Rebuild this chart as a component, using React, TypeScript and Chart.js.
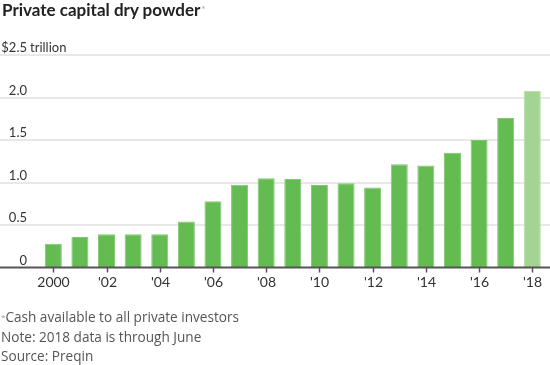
import React, { useEffect, useRef } from "react";
import { Chart, registerables } from "chart.js";

Chart.register(...registerables);

const years = ["2000","2001","2002","2003","2004","2005","2006","2007","2008","2009","2010","2011","2012","2013","2014","2015","2016","2017","2018"];
const xTickLabels = ["2000","","'02","","'04","","'06","","'08","","'10","","'12","","'14","","'16","","'18"];
const dryPowder = [0.28,0.36,0.39,0.39,0.39,0.54,0.78,0.975,1.05,1.04,0.97,0.99,0.94,1.215,1.2,1.35,1.5,1.76,2.08];
const yTickValues = [0, 0.5, 1.0, 1.5, 2.0, 2.5];
const yTickLabels = ["0", "0.5", "1.0", "1.5", "2.0", "$2.5"];

const FONT = "Lato, 'Noto Sans', sans-serif";
const NOTE_FONT = "'Open Sans', 'Noto Sans', sans-serif";

const axisPlugin = {
  id: "wsjAxes",
  beforeDatasetsDraw(chart: any) {
    const { ctx, scales } = chart;
    const y = scales.y;
    ctx.save();
    ctx.strokeStyle = "#e8e8e8";
    ctx.lineWidth = 2;
    yTickValues.forEach((v) => {
      if (v === 0) return;
      const py = Math.round(y.getPixelForValue(v));
      ctx.beginPath();
      ctx.moveTo(0, py);
      ctx.lineTo(550, py);
      ctx.stroke();
    });
    ctx.fillStyle = "#333";
    ctx.font = `13px ${FONT}`;
    ctx.textBaseline = "alphabetic";
    yTickValues.forEach((v, i) => {
      const py = y.getPixelForValue(v);
      ctx.textAlign = "right";
      ctx.fillText(yTickLabels[i], 27, py - 3);
      if (i === yTickValues.length - 1) {
        ctx.textAlign = "left";
        ctx.fillText("trillion", 30, py - 3);
      }
    });
    ctx.restore();
  },
  afterDatasetsDraw(chart: any) {
    const { ctx, scales } = chart;
    const x = scales.x;
    const y = scales.y;
    const by = y.getPixelForValue(0);
    ctx.save();
    ctx.strokeStyle = "#555";
    ctx.lineWidth = 2;
    ctx.beginPath();
    ctx.moveTo(0, by);
    ctx.lineTo(550, by);
    ctx.stroke();
    ctx.lineWidth = 1.5;
    ctx.fillStyle = "#333";
    ctx.font = `14px ${FONT}`;
    ctx.textAlign = "center";
    ctx.textBaseline = "alphabetic";
    xTickLabels.forEach((lab, i) => {
      if (!lab) return;
      const px = Math.round(x.getPixelForValue(i)) + 0.5;
      ctx.beginPath();
      ctx.moveTo(px, by);
      ctx.lineTo(px, by + 5);
      ctx.stroke();
      ctx.fillText(lab, px, by + 19);
    });
    ctx.restore();
  },
};

export default function App() {
  const ref = useRef<HTMLCanvasElement>(null);
  useEffect(() => {
    if (!ref.current) return;
    const colors = dryPowder.map((_, i) => (i === dryPowder.length - 1 ? "#a3d492" : "#63bb51"));
    const borders = dryPowder.map((_, i) => (i === dryPowder.length - 1 ? "#b5dda6" : "#80c870"));
    const chart = new Chart(ref.current, {
      type: "bar",
      data: {
        labels: years,
        datasets: [
          {
            data: dryPowder,
            backgroundColor: colors,
            borderColor: borders,
            borderWidth: { top: 1, left: 1, right: 1, bottom: 0 },
            barPercentage: 0.64,
            categoryPercentage: 1,
          },
        ],
      },
      options: {
        animation: false,
        responsive: false,
        maintainAspectRatio: false,
        layout: { padding: { left: 40, right: 4.4, top: 55, bottom: 97.5 } },
        plugins: { legend: { display: false }, tooltip: { enabled: false }, title: { display: false } },
        scales: {
          x: { display: false, offset: true },
          y: { display: false, min: 0, max: 2.5 },
        },
      },
      plugins: [axisPlugin],
    });
    return () => chart.destroy();
  }, []);

  return (
    <div style={{ position: "absolute", left: 0, top: 0, width: 550, height: 365, background: "#fff", fontFamily: FONT }}>
      <canvas ref={ref} width={550} height={365} style={{ position: "absolute", left: 0, top: 0, width: 550, height: 365 }} />
      <div style={{ position: "absolute", left: 2, top: 0, fontSize: 17, lineHeight: "20.4px", fontWeight: 700, color: "#222", whiteSpace: "nowrap" }}>
        Private capital dry powder
        <span style={{ fontSize: 9, fontWeight: 400, color: "#999", verticalAlign: "top", marginLeft: 1 }}>*</span>
      </div>
      <div style={{ position: "absolute", left: 1, top: 307, fontSize: 13.6, lineHeight: "19.5px", color: "#555", whiteSpace: "nowrap", fontFamily: NOTE_FONT }}>
        <div>
          <span style={{ fontSize: 8, verticalAlign: "top", color: "#999" }}>*</span>Cash available to all private investors
        </div>
        <div>Note: 2018 data is through June</div>
        <div>Source: Preqin</div>
      </div>
    </div>
  );
}
